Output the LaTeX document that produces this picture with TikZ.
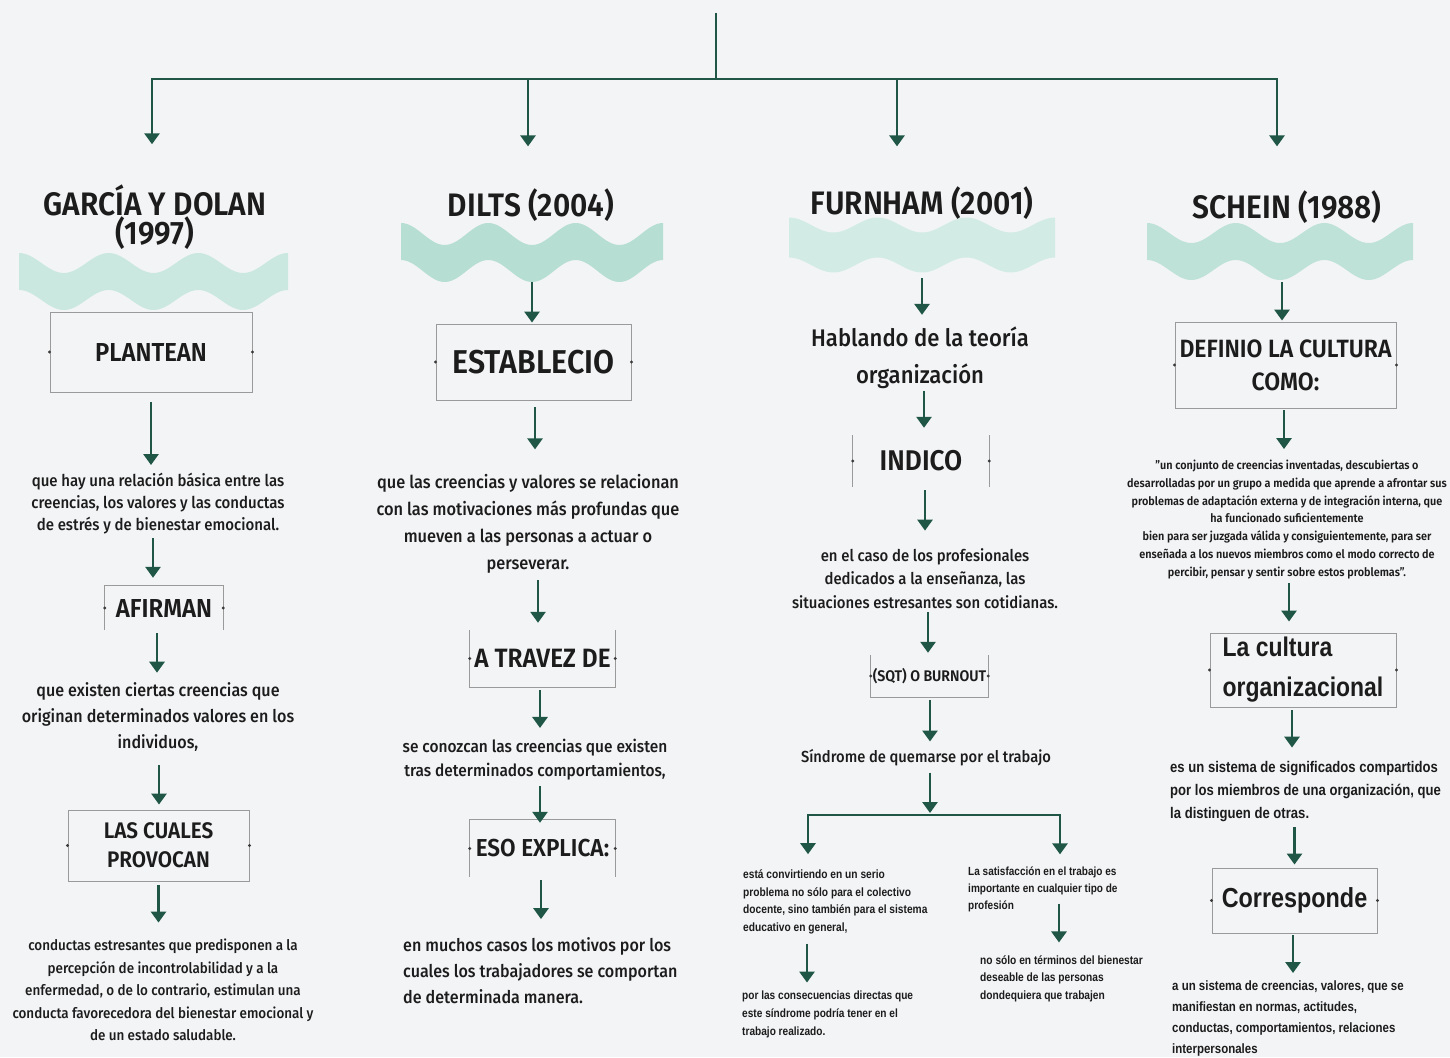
\documentclass[tikz,border=0pt]{standalone}
\usepackage{fontspec}
\setmainfont{Fira Sans Medium}[FakeStretch=0.92, BoldFont={Fira Sans SemiBold}]
\newfontfamily\arialn{Liberation Sans}[FakeStretch=0.85]
\usetikzlibrary{arrows.meta}
\definecolor{bg}{HTML}{F3F4F6}
\definecolor{arrc}{HTML}{1F5646}
\definecolor{txt}{HTML}{1C1C1C}
\definecolor{boxc}{HTML}{9A9A9A}
\definecolor{dotc}{HTML}{3A3A3A}
\definecolor{waveA}{HTML}{CAE8DF}
\definecolor{waveB}{HTML}{B6DED2}
\definecolor{waveC}{HTML}{D2ECE5}
\definecolor{waveD}{HTML}{BEE2D7}
\newcommand\fs[2]{\fontsize{#1}{#2}\selectfont}
\newcommand\sidedots[1]{\fill[dotc] (#1.west) circle (1.6pt); \fill[dotc] (#1.east) circle (1.6pt);}
\newcommand\wave[6]{%
  \fill[#6] plot[domain=#1:#2,samples=100,smooth] (\x,{#3-#4*cos(((\x-#1)/((#2-#1)/3))*360)})
    -- plot[domain=#2:#1,samples=100,smooth] (\x,{#3+#5-#4*cos(((\x-#1)/((#2-#1)/3))*360)}) -- cycle;}
\tikzset{
  arr/.style={draw=arrc, line width=2.8pt, -{Triangle[width=15pt,length=11pt]}},
  conn/.style={draw=arrc, line width=2.8pt},
  txtn/.style={inner sep=0pt, align=center, text=txt},
  boxn/.style={draw=boxc, line width=0.9pt, inner sep=0pt, align=center, text=txt},
  openbox/.style={inner sep=0pt, align=center, text=txt},
  bline/.style={draw=boxc, line width=0.9pt},
  head/.style={inner sep=0pt, align=center, text=txt, font=\bfseries\fs{32.5}{28}},
}
\begin{document}
\begin{tikzpicture}[x=1pt,y=-1pt]
\path[use as bounding box, fill=bg] (0,0) rectangle (1450,1057);

% top bar
\coordinate (top) at (716,13);
\coordinate (bar) at (716,79);
\coordinate (b1) at (152,79);
\coordinate (b2) at (528,79);
\coordinate (b3) at (897,79);
\coordinate (b4) at (1277,79);
\draw[conn] (top) -- (bar);
\draw[conn, line cap=rect] (b1) -- (b4);

% ---------- column 1
\node[head] (h1) at (155,217) {GARCÍA Y DOLAN\\(1997)};
\wave{19}{288}{263}{10}{37}{waveA}
\node[boxn, minimum width=202pt, minimum height=80pt, font=\bfseries\fs{26}{28}] (plantean) at (151,352) {PLANTEAN};
\node[txtn, font=\fs{16.3}{22}] (t1) at (158,504) {que hay una relación básica entre las\\creencias, los valores y las conductas\\de estrés y de bienestar emocional.};
\node[openbox, minimum width=118pt, minimum height=44pt, font=\bfseries\fs{26}{28}] (afirman) at (164,608) {AFIRMAN};
\node[txtn, font=\fs{17.5}{26}] (t2) at (158,717) {que existen ciertas creencias que\\originan determinados valores en los\\individuos,};
\node[boxn, minimum width=181pt, minimum height=71pt, font=\bfseries\fs{22.5}{29}] (cuales) at (158.5,845.5) {LAS CUALES\\PROVOCAN};
\node[txtn, font=\fs{14.6}{22.5}] (t3) at (163,990) {conductas estresantes que predisponen a la\\percepción de incontrolabilidad y a la\\enfermedad, o de lo contrario, estimulan una\\conducta favorecedora del bienestar emocional y\\de un estado saludable.};
\draw[bline] (afirman.south west) -- (afirman.north west) -- (afirman.north east) -- (afirman.south east);

% ---------- column 2
\node[head] (h2) at (531,205) {DILTS (2004)};
\wave{401}{663}{234}{11}{37}{waveB}
\coordinate (w2) at (532,282);
\node[boxn, minimum width=195pt, minimum height=76pt, font=\bfseries\fs{33}{34}] (establecio) at (533.5,362) {ESTABLECIO};
\node[txtn, font=\fs{17.8}{27}] (t4) at (528,523.5) {que las creencias y valores se relacionan\\con las motivaciones más profundas que\\mueven a las personas a actuar o\\perseverar.};
\node[openbox, minimum width=145pt, minimum height=57pt, font=\bfseries\fs{26.5}{28}] (atravez) at (542.5,658.5) {A TRAVEZ DE};
\node[txtn, font=\fs{16.8}{24}] (t5) at (535,760) {se conozcan las creencias que existen\\tras determinados comportamientos,};
\node[openbox, minimum width=145pt, minimum height=57pt, font=\bfseries\fs{24.5}{28}] (esoexp) at (542.5,848.5) {ESO EXPLICA:};
\node[txtn, align=left, anchor=west, font=\fs{17.5}{26}] (t6) at (403,971) {en muchos casos los motivos por los\\cuales los trabajadores se comportan\\de determinada manera.};
\draw[bline] (atravez.north west) -- (atravez.south west) -- (atravez.south east) -- (atravez.north east);
\draw[bline] (esoexp.south west) -- (esoexp.north west) -- (esoexp.north east) -- (esoexp.south east);

% ---------- column 3
\node[head] (h3) at (922,203) {FURNHAM (2001)};
\wave{789}{1055}{225}{7.5}{40}{waveC}
\coordinate (w3) at (922,278);
\node[txtn, font=\fs{24}{37}] (t7) at (920,357.5) {Hablando de la teoría\\organización};
\node[openbox, minimum width=136pt, minimum height=52pt, font=\bfseries\fs{28.5}{30}] (indico) at (921,461) {INDICO};
\node[txtn, font=\fs{16.2}{23.5}] (t8) at (925,578.5) {en el caso de los profesionales\\dedicados a la enseñanza, las\\situaciones estresantes son cotidianas.};
\node[openbox, minimum width=117pt, minimum height=42pt, font=\bfseries\fs{15.4}{18}] (sqt) at (929.5,676) {(SQT) O BURNOUT};
\node[txtn, font=\fs{16}{20}] (t9) at (926,758) {Síndrome de quemarse por el trabajo};
\coordinate (split) at (930,815);
\coordinate (bl) at (808,815);
\coordinate (br) at (1060,815);
\node[txtn, align=left, anchor=west, font=\arialn\bfseries\fs{12}{17.5}] (t10) at (743,902) {está convirtiendo en un serio\\problema no sólo para el colectivo\\docente, sino también para el sistema\\educativo en general,};
\node[txtn, align=left, anchor=west, font=\arialn\bfseries\fs{11.9}{18}] (t11) at (742,1014) {por las consecuencias directas que\\este síndrome podría tener en el\\trabajo realizado.};
\node[txtn, align=left, anchor=west, font=\arialn\bfseries\fs{11.8}{17}] (t12) at (968,889) {La satisfacción en el trabajo es\\importante en cualquier tipo de\\profesión};
\node[txtn, align=left, anchor=west, font=\arialn\bfseries\fs{12}{17.5}] (t13) at (980,978.5) {no sólo en términos del bienestar\\deseable de las personas\\dondequiera que trabajen};
\draw[bline] (indico.south west) -- (indico.north west);
\draw[bline] (indico.south east) -- (indico.north east);
\draw[bline] (sqt.north west) -- (sqt.south west) -- (sqt.south east) -- (sqt.north east);

% ---------- column 4
\node[head] (h4) at (1287,207) {SCHEIN (1988)};
\wave{1147}{1413}{233}{10}{37}{waveD}
\coordinate (w4) at (1282,282);
\node[boxn, minimum width=221pt, minimum height=86pt, font=\bfseries\fs{25}{33}] (definio) at (1285.5,365) {DEFINIO LA CULTURA\\COMO:};
\node[txtn, font=\bfseries\fs{11.8}{17.8}] (t14) at (1287,519.5) {"un conjunto de creencias inventadas, descubiertas o\\desarrolladas por un grupo a medida que aprende a afrontar sus\\problemas de adaptación externa y de integración interna, que\\ha funcionado suficientemente\\bien para ser juzgada válida y consiguientemente, para ser\\enseñada a los nuevos miembros como el modo correcto de\\percibir, pensar y sentir sobre estos problemas".};
\node[boxn, minimum width=186pt, minimum height=74pt, align=left, font=\arialn\bfseries\fs{27}{40}] (cultura) at (1303,670) {La cultura\\organizacional};
\node[txtn, align=left, anchor=west, font=\arialn\bfseries\fs{15.4}{23}] (t15) at (1170,792) {es un sistema de significados compartidos\\por los miembros de una organización, que\\la distinguen de otras.};
\node[boxn, minimum width=165pt, minimum height=65pt, font=\arialn\bfseries\fs{27.5}{30}] (corr) at (1294.5,900.5) {Corresponde};
\node[txtn, align=left, anchor=west, font=\arialn\bfseries\fs{13.5}{21}] (t16) at (1172,1018.5) {a un sistema de creencias, valores, que se\\manifiestan en normas, actitudes,\\conductas, comportamientos, relaciones\\interpersonales};

% side dots
\sidedots{plantean}
\sidedots{afirman}
\sidedots{cuales}
\sidedots{establecio}
\sidedots{atravez}
\sidedots{esoexp}
\sidedots{indico}
\sidedots{sqt}
\sidedots{definio}
\sidedots{cultura}
\sidedots{corr}

% ---------- connectors
\draw[arr] (b1) -- ([yshift=40pt]b1 |- h1.north);
\draw[arr] (b2) -- ([yshift=42pt]b2 |- h2.north);
\draw[arr] (b3) -- ([yshift=40pt]b3 |- h3.north);
\draw[arr] (b4) -- ([yshift=44pt]b4 |- h4.north);

\draw[arr] ([yshift=-10pt]plantean.south) -- ([yshift=8.3pt]plantean.south |- t1.north);
\draw[arr] ([xshift=-5pt,yshift=-3.2pt]t1.south) -- ([xshift=-5pt,yshift=8pt]t1.south |- afirman.north);
\draw[arr] ([xshift=-7pt,yshift=-3pt]afirman.south) -- ([xshift=-7pt,yshift=9.6pt]afirman.south |- t2.north);
\draw[arr] ([xshift=1pt,yshift=-13.4pt]t2.south) -- ([xshift=1pt,yshift=5pt]t2.south |- cuales.north);
\draw[arr] ([yshift=-4pt]cuales.south) -- ([yshift=16.3pt]cuales.south |- t3.north);

\draw[arr] (w2) -- ([yshift=1pt]w2 |- establecio.north);
\draw[arr] ([xshift=1.5pt,yshift=-7pt]establecio.south) -- ([xshift=1.5pt,yshift=24.4pt]establecio.south |- t4.north);
\draw[arr] ([xshift=10pt,yshift=-7.2pt]t4.south) -- ([xshift=10pt,yshift=7pt]t4.south |- atravez.north);
\draw[arr] ([xshift=-2.5pt,yshift=-3pt]atravez.south) -- ([xshift=-2.5pt,yshift=11.3pt]atravez.south |- t5.north);
\draw[arr] ([xshift=5pt,yshift=-5.2pt]t5.south) -- ([xshift=5pt,yshift=-3pt]t5.south |- esoexp.north);
\draw[arr] ([xshift=-1.5pt,yshift=-3pt]esoexp.south) -- ([xshift=-1.5pt,yshift=18.6pt]esoexp.south |- t6.north);

\draw[arr] (w3) -- ([yshift=11.5pt]w3 |- t7.north);
\draw[arr] ([xshift=4pt,yshift=-2.2pt]t7.south) -- ([xshift=4pt,yshift=7pt]t7.south |- indico.north);
\draw[arr] ([xshift=4pt,yshift=-3pt]indico.south) -- ([xshift=4pt,yshift=17.6pt]indico.south |- t8.north);
\draw[arr] ([xshift=3pt,yshift=-3.4pt]t8.south) -- ([xshift=3pt,yshift=2pt]t8.south |- sqt.north);
\draw[arr] ([xshift=0.5pt,yshift=-3pt]sqt.south) -- ([xshift=0.5pt,yshift=8pt]sqt.south |- t9.north);
\draw[arr] ([xshift=4pt,yshift=-6pt]t9.south) -- ([yshift=2pt]split);
\draw[arr] (split) -| ([yshift=15.7pt]bl |- t10.north);
\draw[arr] (split) -| ([yshift=11.9pt]br |- t12.north);
\draw[arr] ([xshift=-1pt,yshift=-9.6pt]bl |- t10.south) -- ([xshift=-1pt,yshift=7.7pt]bl |- t11.north);
\draw[arr] ([xshift=-1pt,yshift=8.1pt]br |- t12.south) -- ([xshift=-1pt,yshift=12.7pt]br |- t13.north);

\draw[arr] (w4) -- ([yshift=1pt]w4 |- definio.north);
\draw[arr] ([xshift=-1.5pt,yshift=-2pt]definio.south) -- ([xshift=-1.5pt,yshift=10.8pt]definio.south |- t14.north);
\draw[arr] ([xshift=2pt,yshift=-3.7pt]t14.south) -- ([xshift=2pt,yshift=11pt]t14.south |- cultura.north);
\draw[arr] ([xshift=-11pt,yshift=-3pt]cultura.south) -- ([xshift=-11pt,yshift=14pt]cultura.south |- t15.north);
\draw[arr] ([yshift=-5pt]t15.south -| corr.north) -- ([yshift=3pt]corr.north);
\draw[arr] ([xshift=-1.5pt,yshift=-2pt]corr.south) -- ([xshift=-1.5pt,yshift=7.5pt]corr.south |- t16.north);
\end{tikzpicture}
\end{document}
